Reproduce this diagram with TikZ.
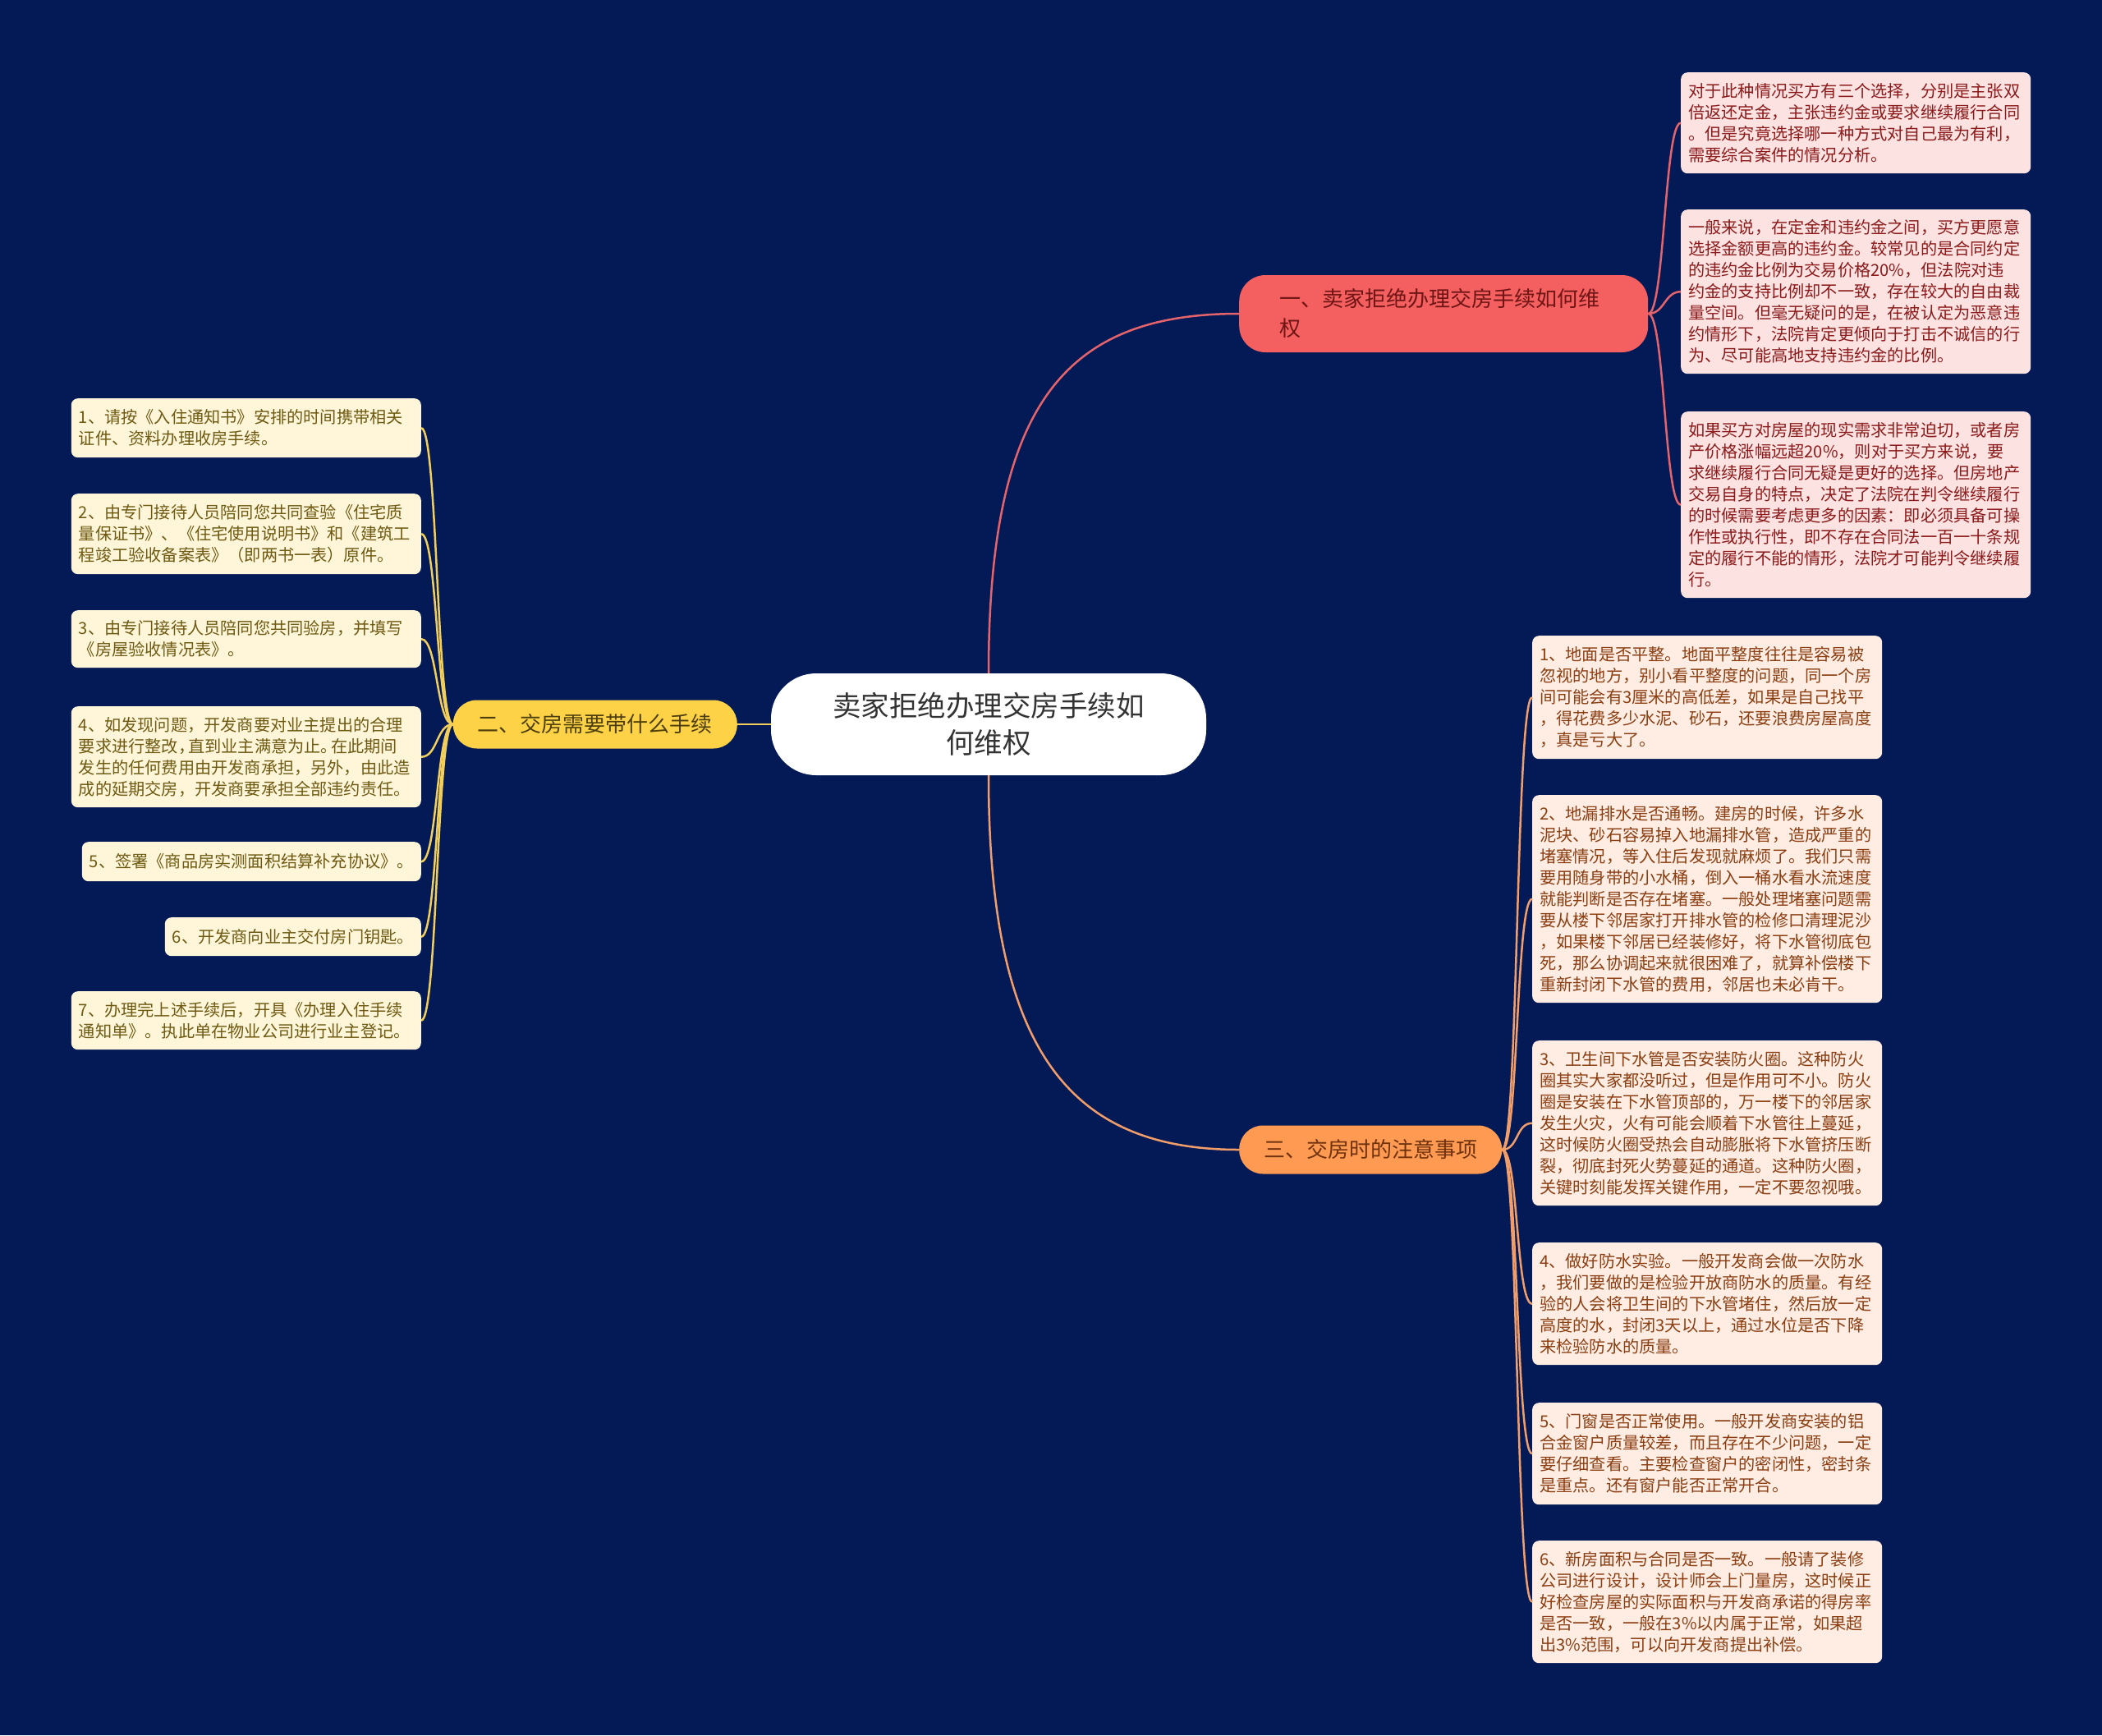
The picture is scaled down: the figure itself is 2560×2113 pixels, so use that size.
\documentclass[tikz,border=0pt]{standalone}
\usepackage{fontspec}
\setmainfont{Noto Sans CJK SC}
\usetikzlibrary{positioning}
\definecolor{bg}{HTML}{031A56}
\definecolor{redtopic}{HTML}{F45F5F}
\definecolor{redleaf}{HTML}{FDE2E2}
\definecolor{redtext}{HTML}{8B1A1A}
\definecolor{redline}{HTML}{E5646C}
\definecolor{yeltopic}{HTML}{FDD247}
\definecolor{yelleaf}{HTML}{FFF6D9}
\definecolor{yeltext}{HTML}{6E5A12}
\definecolor{yelline}{HTML}{F2CF5A}
\definecolor{orgtopic}{HTML}{FF9A52}
\definecolor{orgleaf}{HTML}{FFEDE3}
\definecolor{orgtext}{HTML}{8A3E12}
\definecolor{orgline}{HTML}{F29E6A}

\begin{document}
\begin{tikzpicture}[x=1pt, y=-1pt,
  rootnode/.style={fill=white, rounded corners=55pt, align=center, text width=390pt,
    inner xsep=70pt, minimum height=124pt, text=black!80, font=\fontsize{34.5}{45}\selectfont},
  topic/.style={rounded corners=29pt, align=left, inner xsep=30pt, minimum height=59pt,
    font=\fontsize{26}{36}\selectfont},
  leafbox/.style={rounded corners=8pt, align=left, text width=408pt, inner xsep=9pt,
    inner ysep=10pt, font=\fontsize{20.2}{26}\selectfont},
  link/.style={line width=2.5pt}]
  \useasboundingbox (0,0) rectangle (2560,2113);
  \fill[bg] (0,0) rectangle (2560,2113);

  \node[rootnode] (R) at (1204,882) {卖家拒绝办理交房手续如\\何维权};
  \node[topic, fill=redtopic, text=redtext!80!black, text width=400pt, inner xsep=49pt,
    minimum height=94pt, rounded corners=32pt, anchor=west] (B1) at (1509,382)
    {一、卖家拒绝办理交房手续如何维\\权};
  \node[topic, fill=yeltopic, text=yeltext!70!black, anchor=east] (B2) at (898,882)
    {二、交房需要带什么手续};
  \node[topic, fill=orgtopic, text=orgtext!80!black, anchor=west] (B3) at (1509,1400)
    {三、交房时的注意事项};

  \draw[link, redline] (R.north) .. controls +(0,-330) and +(-210,0) .. (B1.west);
  \draw[link, yelline] (R.west) -- (B2.east);
  \draw[link, orgline] (R.south) .. controls +(0,330) and +(-210,0) .. (B3.west);

  \node[leafbox, fill=redleaf, text=redtext, anchor=north west, minimum height=123pt] (L1) at (2047,88)
    {对于此种情况买方有三个选择，分别是主张双\\倍返还定金，主张违约金或要求继续履行合同\\。但是究竟选择哪一种方式对自己最为有利，\\需要综合案件的情况分析。};
  \node[leafbox, fill=redleaf, text=redtext, anchor=north west, minimum height=200pt] (L2) at (2047,255)
    {一般来说，在定金和违约金之间，买方更愿意\\选择金额更高的违约金。较常见的是合同约定\\的违约金比例为交易价格20\%，但法院对违\\约金的支持比例却不一致，存在较大的自由裁\\量空间。但毫无疑问的是，在被认定为恶意违\\约情形下，法院肯定更倾向于打击不诚信的行\\为、尽可能高地支持违约金的比例。};
  \node[leafbox, fill=redleaf, text=redtext, anchor=north west, minimum height=227pt] (L3) at (2047,501)
    {如果买方对房屋的现实需求非常迫切，或者房\\产价格涨幅远超20\%，则对于买方来说，要\\求继续履行合同无疑是更好的选择。但房地产\\交易自身的特点，决定了法院在判令继续履行\\的时候需要考虑更多的因素：即必须具备可操\\作性或执行性，即不存在合同法一百一十条规\\定的履行不能的情形，法院才可能判令继续履\\行。};
  \draw[link, redline] (B1.east) .. controls +(20,0) and +(-20,0) .. (L1.west);
  \draw[link, redline] (B1.east) .. controls +(20,0) and +(-20,0) .. (L2.west);
  \draw[link, redline] (B1.east) .. controls +(20,0) and +(-20,0) .. (L3.west);

  \node[leafbox, fill=yelleaf, text=yeltext, anchor=north east, minimum height=72pt] (Y1) at (513,485)
    {1、请按《入住通知书》安排的时间携带相关\\证件、资料办理收房手续。};
  \node[leafbox, fill=yelleaf, text=yeltext, anchor=north east, minimum height=98pt] (Y2) at (513,601)
    {2、由专门接待人员陪同您共同查验《住宅质\\量保证书》、《住宅使用说明书》和《建筑工\\程竣工验收备案表》（即两书一表）原件。};
  \node[leafbox, fill=yelleaf, text=yeltext, anchor=north east, minimum height=70pt] (Y3) at (513,743)
    {3、由专门接待人员陪同您共同验房，并填写\\《房屋验收情况表》。};
  \node[leafbox, fill=yelleaf, text=yeltext, anchor=north east, minimum height=123pt] (Y4) at (513,860)
    {4、如发现问题，开发商要对业主提出的合理\\要求进行整改，\kern-8pt 直到业主满意为止。\kern-8pt 在此期间\\发生的任何费用由开发商承担，另外，由此造\\成的延期交房，开发商要承担全部违约责任。};
  \node[leafbox, fill=yelleaf, text=yeltext, anchor=north east, minimum height=48pt, text width=] (Y5) at (513,1025)
    {5、签署《商品房实测面积结算补充协议》。};
  \node[leafbox, fill=yelleaf, text=yeltext, anchor=north east, minimum height=47pt, text width=] (Y6) at (513,1117)
    {6、开发商向业主交付房门钥匙。};
  \node[leafbox, fill=yelleaf, text=yeltext, anchor=north east, minimum height=71pt] (Y7) at (513,1207)
    {7、办理完上述手续后，开具《办理入住手续\\通知单》。执此单在物业公司进行业主登记。};
  \draw[link, yelline] (B2.west) .. controls +(-20,0) and +(20,0) .. (Y1.east);
  \draw[link, yelline] (B2.west) .. controls +(-20,0) and +(20,0) .. (Y2.east);
  \draw[link, yelline] (B2.west) .. controls +(-20,0) and +(20,0) .. (Y3.east);
  \draw[link, yelline] (B2.west) .. controls +(-20,0) and +(20,0) .. (Y4.east);
  \draw[link, yelline] (B2.west) .. controls +(-20,0) and +(20,0) .. (Y5.east);
  \draw[link, yelline] (B2.west) .. controls +(-20,0) and +(20,0) .. (Y6.east);
  \draw[link, yelline] (B2.west) .. controls +(-20,0) and +(20,0) .. (Y7.east);

  \node[leafbox, fill=orgleaf, text=orgtext, anchor=north west, minimum height=150pt] (O1) at (1866,774)
    {1、地面是否平整。地面平整度往往是容易被\\忽视的地方，别小看平整度的问题，同一个房\\间可能会有3厘米的高低差，如果是自己找平\\，得花费多少水泥、砂石，还要浪费房屋高度\\，真是亏大了。};
  \node[leafbox, fill=orgleaf, text=orgtext, anchor=north west, minimum height=253pt] (O2) at (1866,968)
    {2、地漏排水是否通畅。建房的时候，许多水\\泥块、砂石容易掉入地漏排水管，造成严重的\\堵塞情况，等入住后发现就麻烦了。我们只需\\要用随身带的小水桶，倒入一桶水看水流速度\\就能判断是否存在堵塞。一般处理堵塞问题需\\要从楼下邻居家打开排水管的检修口清理泥沙\\，如果楼下邻居已经装修好，将下水管彻底包\\死，那么协调起来就很困难了，就算补偿楼下\\重新封闭下水管的费用，邻居也未必肯干。};
  \node[leafbox, fill=orgleaf, text=orgtext, anchor=north west, minimum height=201pt] (O3) at (1866,1267)
    {3、卫生间下水管是否安装防火圈。这种防火\\圈其实大家都没听过，但是作用可不小。防火\\圈是安装在下水管顶部的，万一楼下的邻居家\\发生火灾，火有可能会顺着下水管往上蔓延，\\这时候防火圈受热会自动膨胀将下水管挤压断\\裂，彻底封死火势蔓延的通道。这种防火圈，\\关键时刻能发挥关键作用，一定不要忽视哦。};
  \node[leafbox, fill=orgleaf, text=orgtext, anchor=north west, minimum height=149pt] (O4) at (1866,1513)
    {4、做好防水实验。一般开发商会做一次防水\\，我们要做的是检验开放商防水的质量。有经\\验的人会将卫生间的下水管堵住，然后放一定\\高度的水，封闭3天以上，通过水位是否下降\\来检验防水的质量。};
  \node[leafbox, fill=orgleaf, text=orgtext, anchor=north west, minimum height=124pt] (O5) at (1866,1708)
    {5、门窗是否正常使用。一般开发商安装的铝\\合金窗户质量较差，而且存在不少问题，一定\\要仔细查看。主要检查窗户的密闭性，密封条\\是重点。还有窗户能否正常开合。};
  \node[leafbox, fill=orgleaf, text=orgtext, anchor=north west, minimum height=149pt] (O6) at (1866,1876)
    {6、新房面积与合同是否一致。一般请了装修\\公司进行设计，设计师会上门量房，这时候正\\好检查房屋的实际面积与开发商承诺的得房率\\是否一致，一般在3\%以内属于正常，如果超\\出3\%范围，可以向开发商提出补偿。};
  \draw[link, orgline] (B3.east) .. controls +(20,0) and +(-20,0) .. (O1.west);
  \draw[link, orgline] (B3.east) .. controls +(20,0) and +(-20,0) .. (O2.west);
  \draw[link, orgline] (B3.east) .. controls +(20,0) and +(-20,0) .. (O3.west);
  \draw[link, orgline] (B3.east) .. controls +(20,0) and +(-20,0) .. (O4.west);
  \draw[link, orgline] (B3.east) .. controls +(20,0) and +(-20,0) .. (O5.west);
  \draw[link, orgline] (B3.east) .. controls +(20,0) and +(-20,0) .. (O6.west);
\end{tikzpicture}
\end{document}
